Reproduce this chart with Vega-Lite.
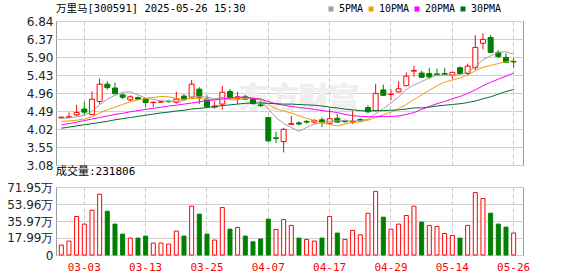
{
  "$schema": "https://vega.github.io/schema/vega-lite/v6.json",
  "background": "white",
  "padding": {"left": 0, "top": 3, "right": 0, "bottom": 0},
  "bounds": "flush",
  "spacing": 22,
  "config": {
    "view": {"stroke": "#999", "strokeWidth": 1},
    "font": "DejaVu Sans",
    "axis": {"labelFont": "DejaVu Sans", "labelFontSize": 12, "labelColor": "#222", "titleFontSize": 11, "labelOverlap": false}
  },
  "datasets": {
    "k": [
      {"d": "02-26", "o": 4.31, "h": 4.34, "l": 4.30, "c": 4.33, "v": 105000, "dir": "up", "vdir": "up", "5PMA": 4.30, "10PMA": 4.22, "20PMA": 4.13, "30PMA": 4.04},
      {"d": "02-27", "o": 4.32, "h": 4.45, "l": 4.30, "c": 4.34, "v": 147000, "dir": "up", "vdir": "up", "5PMA": 4.31, "10PMA": 4.23, "20PMA": 4.16, "30PMA": 4.07},
      {"d": "02-28", "o": 4.39, "h": 4.65, "l": 4.36, "c": 4.45, "v": 408000, "dir": "up", "vdir": "up", "5PMA": 4.34, "10PMA": 4.25, "20PMA": 4.20, "30PMA": 4.10},
      {"d": "03-03", "o": 4.54, "h": 4.73, "l": 4.37, "c": 4.46, "v": 327000, "dir": "down", "vdir": "up", "5PMA": 4.38, "10PMA": 4.28, "20PMA": 4.24, "30PMA": 4.13},
      {"d": "03-04", "o": 4.40, "h": 5.00, "l": 4.39, "c": 4.80, "v": 474000, "dir": "up", "vdir": "up", "5PMA": 4.48, "10PMA": 4.34, "20PMA": 4.28, "30PMA": 4.16},
      {"d": "03-05", "o": 4.74, "h": 5.34, "l": 4.67, "c": 5.19, "v": 643000, "dir": "up", "vdir": "up", "5PMA": 4.65, "10PMA": 4.44, "20PMA": 4.32, "30PMA": 4.19},
      {"d": "03-06", "o": 5.19, "h": 5.27, "l": 5.05, "c": 5.10, "v": 463000, "dir": "down", "vdir": "down", "5PMA": 4.80, "10PMA": 4.52, "20PMA": 4.36, "30PMA": 4.22},
      {"d": "03-07", "o": 5.09, "h": 5.23, "l": 4.93, "c": 4.94, "v": 327000, "dir": "down", "vdir": "down", "5PMA": 4.90, "10PMA": 4.59, "20PMA": 4.40, "30PMA": 4.26},
      {"d": "03-10", "o": 4.91, "h": 4.95, "l": 4.80, "c": 4.85, "v": 221000, "dir": "down", "vdir": "down", "5PMA": 4.98, "10PMA": 4.66, "20PMA": 4.43, "30PMA": 4.29},
      {"d": "03-11", "o": 4.78, "h": 4.90, "l": 4.75, "c": 4.86, "v": 179000, "dir": "up", "vdir": "up", "5PMA": 4.99, "10PMA": 4.73, "20PMA": 4.47, "30PMA": 4.32},
      {"d": "03-12", "o": 4.84, "h": 4.87, "l": 4.78, "c": 4.80, "v": 179000, "dir": "down", "vdir": "down", "5PMA": 4.91, "10PMA": 4.78, "20PMA": 4.50, "30PMA": 4.35},
      {"d": "03-13", "o": 4.80, "h": 4.83, "l": 4.60, "c": 4.71, "v": 200000, "dir": "down", "vdir": "down", "5PMA": 4.83, "10PMA": 4.82, "20PMA": 4.53, "30PMA": 4.38},
      {"d": "03-14", "o": 4.71, "h": 4.73, "l": 4.59, "c": 4.72, "v": 126000, "dir": "up", "vdir": "up", "5PMA": 4.79, "10PMA": 4.84, "20PMA": 4.56, "30PMA": 4.41},
      {"d": "03-17", "o": 4.72, "h": 4.75, "l": 4.70, "c": 4.73, "v": 126000, "dir": "up", "vdir": "up", "5PMA": 4.76, "10PMA": 4.87, "20PMA": 4.59, "30PMA": 4.44},
      {"d": "03-18", "o": 4.75, "h": 4.76, "l": 4.71, "c": 4.73, "v": 116000, "dir": "down", "vdir": "up", "5PMA": 4.74, "10PMA": 4.86, "20PMA": 4.62, "30PMA": 4.46},
      {"d": "03-19", "o": 4.72, "h": 4.99, "l": 4.68, "c": 4.80, "v": 253000, "dir": "up", "vdir": "up", "5PMA": 4.74, "10PMA": 4.82, "20PMA": 4.64, "30PMA": 4.49},
      {"d": "03-20", "o": 4.88, "h": 4.93, "l": 4.78, "c": 4.79, "v": 200000, "dir": "down", "vdir": "down", "5PMA": 4.76, "10PMA": 4.79, "20PMA": 4.67, "30PMA": 4.51},
      {"d": "03-21", "o": 4.85, "h": 5.30, "l": 4.82, "c": 5.19, "v": 516000, "dir": "up", "vdir": "up", "5PMA": 4.85, "10PMA": 4.82, "20PMA": 4.70, "30PMA": 4.54},
      {"d": "03-24", "o": 5.06, "h": 5.11, "l": 4.67, "c": 4.85, "v": 432000, "dir": "down", "vdir": "down", "5PMA": 4.87, "10PMA": 4.82, "20PMA": 4.73, "30PMA": 4.56},
      {"d": "03-25", "o": 4.80, "h": 4.90, "l": 4.59, "c": 4.60, "v": 221000, "dir": "down", "vdir": "down", "5PMA": 4.85, "10PMA": 4.79, "20PMA": 4.76, "30PMA": 4.58},
      {"d": "03-26", "o": 4.59, "h": 4.74, "l": 4.55, "c": 4.62, "v": 158000, "dir": "up", "vdir": "up", "5PMA": 4.81, "10PMA": 4.78, "20PMA": 4.78, "30PMA": 4.61},
      {"d": "03-27", "o": 4.67, "h": 5.14, "l": 4.53, "c": 4.98, "v": 502000, "dir": "up", "vdir": "up", "5PMA": 4.85, "10PMA": 4.80, "20PMA": 4.81, "30PMA": 4.63},
      {"d": "03-28", "o": 5.00, "h": 5.07, "l": 4.81, "c": 4.84, "v": 274000, "dir": "down", "vdir": "down", "5PMA": 4.78, "10PMA": 4.81, "20PMA": 4.83, "30PMA": 4.65},
      {"d": "03-31", "o": 4.82, "h": 4.99, "l": 4.67, "c": 4.86, "v": 292000, "dir": "up", "vdir": "up", "5PMA": 4.78, "10PMA": 4.83, "20PMA": 4.85, "30PMA": 4.67},
      {"d": "04-01", "o": 4.86, "h": 4.91, "l": 4.79, "c": 4.80, "v": 200000, "dir": "down", "vdir": "down", "5PMA": 4.82, "10PMA": 4.83, "20PMA": 4.85, "30PMA": 4.69},
      {"d": "04-02", "o": 4.80, "h": 4.83, "l": 4.67, "c": 4.68, "v": 140000, "dir": "down", "vdir": "down", "5PMA": 4.83, "10PMA": 4.82, "20PMA": 4.82, "30PMA": 4.70},
      {"d": "04-03", "o": 4.65, "h": 4.74, "l": 4.59, "c": 4.63, "v": 169000, "dir": "down", "vdir": "down", "5PMA": 4.76, "10PMA": 4.81, "20PMA": 4.80, "30PMA": 4.70},
      {"d": "04-07", "o": 4.32, "h": 4.33, "l": 3.68, "c": 3.71, "v": 379000, "dir": "down", "vdir": "down", "5PMA": 4.54, "10PMA": 4.66, "20PMA": 4.74, "30PMA": 4.69},
      {"d": "04-08", "o": 3.79, "h": 3.95, "l": 3.65, "c": 3.77, "v": 271000, "dir": "down", "vdir": "up", "5PMA": 4.32, "10PMA": 4.55, "20PMA": 4.68, "30PMA": 4.68},
      {"d": "04-09", "o": 3.69, "h": 4.05, "l": 3.41, "c": 4.01, "v": 376000, "dir": "up", "vdir": "up", "5PMA": 4.16, "10PMA": 4.49, "20PMA": 4.64, "30PMA": 4.67},
      {"d": "04-10", "o": 4.14, "h": 4.36, "l": 4.13, "c": 4.16, "v": 313000, "dir": "up", "vdir": "up", "5PMA": 4.06, "10PMA": 4.44, "20PMA": 4.61, "30PMA": 4.67},
      {"d": "04-11", "o": 4.18, "h": 4.22, "l": 4.12, "c": 4.15, "v": 179000, "dir": "down", "vdir": "down", "5PMA": 3.96, "10PMA": 4.36, "20PMA": 4.58, "30PMA": 4.66},
      {"d": "04-14", "o": 4.22, "h": 4.25, "l": 4.16, "c": 4.20, "v": 165000, "dir": "down", "vdir": "up", "5PMA": 4.06, "10PMA": 4.30, "20PMA": 4.56, "30PMA": 4.65},
      {"d": "04-15", "o": 4.20, "h": 4.28, "l": 4.16, "c": 4.24, "v": 147000, "dir": "up", "vdir": "up", "5PMA": 4.15, "10PMA": 4.24, "20PMA": 4.53, "30PMA": 4.64},
      {"d": "04-16", "o": 4.26, "h": 4.32, "l": 4.07, "c": 4.19, "v": 179000, "dir": "down", "vdir": "down", "5PMA": 4.19, "10PMA": 4.18, "20PMA": 4.50, "30PMA": 4.62},
      {"d": "04-17", "o": 4.17, "h": 4.56, "l": 4.12, "c": 4.29, "v": 408000, "dir": "up", "vdir": "up", "5PMA": 4.22, "10PMA": 4.14, "20PMA": 4.48, "30PMA": 4.59},
      {"d": "04-18", "o": 4.30, "h": 4.41, "l": 4.19, "c": 4.20, "v": 232000, "dir": "down", "vdir": "down", "5PMA": 4.23, "10PMA": 4.10, "20PMA": 4.45, "30PMA": 4.57},
      {"d": "04-21", "o": 4.23, "h": 4.27, "l": 4.19, "c": 4.21, "v": 165000, "dir": "down", "vdir": "up", "5PMA": 4.24, "10PMA": 4.15, "20PMA": 4.40, "30PMA": 4.54},
      {"d": "04-22", "o": 4.20, "h": 4.50, "l": 4.15, "c": 4.22, "v": 260000, "dir": "up", "vdir": "up", "5PMA": 4.23, "10PMA": 4.19, "20PMA": 4.37, "30PMA": 4.52},
      {"d": "04-23", "o": 4.27, "h": 4.30, "l": 4.20, "c": 4.23, "v": 214000, "dir": "down", "vdir": "up", "5PMA": 4.24, "10PMA": 4.21, "20PMA": 4.35, "30PMA": 4.50},
      {"d": "04-24", "o": 4.58, "h": 4.64, "l": 4.43, "c": 4.47, "v": 442000, "dir": "down", "vdir": "up", "5PMA": 4.27, "10PMA": 4.25, "20PMA": 4.34, "30PMA": 4.49},
      {"d": "04-25", "o": 4.50, "h": 5.20, "l": 4.48, "c": 4.95, "v": 674000, "dir": "up", "vdir": "up", "5PMA": 4.42, "10PMA": 4.32, "20PMA": 4.34, "30PMA": 4.50},
      {"d": "04-28", "o": 5.04, "h": 5.18, "l": 4.88, "c": 4.90, "v": 400000, "dir": "down", "vdir": "down", "5PMA": 4.55, "10PMA": 4.39, "20PMA": 4.35, "30PMA": 4.50},
      {"d": "04-29", "o": 4.92, "h": 5.06, "l": 4.78, "c": 4.93, "v": 274000, "dir": "up", "vdir": "up", "5PMA": 4.70, "10PMA": 4.46, "20PMA": 4.35, "30PMA": 4.51},
      {"d": "04-30", "o": 4.99, "h": 5.27, "l": 4.97, "c": 5.07, "v": 327000, "dir": "up", "vdir": "up", "5PMA": 4.86, "10PMA": 4.55, "20PMA": 4.36, "30PMA": 4.52},
      {"d": "05-06", "o": 5.15, "h": 5.50, "l": 5.14, "c": 5.40, "v": 418000, "dir": "up", "vdir": "up", "5PMA": 5.05, "10PMA": 4.66, "20PMA": 4.40, "30PMA": 4.54},
      {"d": "05-07", "o": 5.53, "h": 5.67, "l": 5.39, "c": 5.55, "v": 516000, "dir": "up", "vdir": "up", "5PMA": 5.17, "10PMA": 4.79, "20PMA": 4.45, "30PMA": 4.57},
      {"d": "05-08", "o": 5.48, "h": 5.54, "l": 5.36, "c": 5.37, "v": 348000, "dir": "down", "vdir": "down", "5PMA": 5.26, "10PMA": 4.91, "20PMA": 4.53, "30PMA": 4.57},
      {"d": "05-09", "o": 5.47, "h": 5.62, "l": 5.33, "c": 5.38, "v": 313000, "dir": "down", "vdir": "up", "5PMA": 5.35, "10PMA": 5.03, "20PMA": 4.61, "30PMA": 4.59},
      {"d": "05-12", "o": 5.46, "h": 5.60, "l": 5.42, "c": 5.43, "v": 302000, "dir": "down", "vdir": "up", "5PMA": 5.43, "10PMA": 5.15, "20PMA": 4.68, "30PMA": 4.62},
      {"d": "05-13", "o": 5.47, "h": 5.62, "l": 5.43, "c": 5.44, "v": 228000, "dir": "down", "vdir": "up", "5PMA": 5.43, "10PMA": 5.24, "20PMA": 4.74, "30PMA": 4.64},
      {"d": "05-14", "o": 5.43, "h": 5.51, "l": 5.33, "c": 5.50, "v": 207000, "dir": "up", "vdir": "up", "5PMA": 5.42, "10PMA": 5.30, "20PMA": 4.81, "30PMA": 4.66},
      {"d": "05-15", "o": 5.62, "h": 5.65, "l": 5.44, "c": 5.47, "v": 179000, "dir": "down", "vdir": "down", "5PMA": 5.44, "10PMA": 5.35, "20PMA": 4.87, "30PMA": 4.68},
      {"d": "05-16", "o": 5.47, "h": 5.73, "l": 5.43, "c": 5.66, "v": 313000, "dir": "up", "vdir": "up", "5PMA": 5.50, "10PMA": 5.43, "20PMA": 4.95, "30PMA": 4.71},
      {"d": "05-19", "o": 5.62, "h": 6.47, "l": 5.56, "c": 6.15, "v": 660000, "dir": "up", "vdir": "up", "5PMA": 5.64, "10PMA": 5.54, "20PMA": 5.04, "30PMA": 4.75},
      {"d": "05-20", "o": 6.26, "h": 6.52, "l": 6.10, "c": 6.36, "v": 597000, "dir": "up", "vdir": "up", "5PMA": 5.83, "10PMA": 5.63, "20PMA": 5.15, "30PMA": 4.81},
      {"d": "05-21", "o": 6.41, "h": 6.47, "l": 6.00, "c": 6.02, "v": 442000, "dir": "down", "vdir": "down", "5PMA": 5.93, "10PMA": 5.68, "20PMA": 5.24, "30PMA": 4.86},
      {"d": "05-22", "o": 6.02, "h": 6.08, "l": 5.87, "c": 5.91, "v": 327000, "dir": "down", "vdir": "down", "5PMA": 6.02, "10PMA": 5.73, "20PMA": 5.32, "30PMA": 4.93},
      {"d": "05-23", "o": 5.89, "h": 6.00, "l": 5.75, "c": 5.76, "v": 295000, "dir": "down", "vdir": "down", "5PMA": 6.04, "10PMA": 5.77, "20PMA": 5.40, "30PMA": 5.00},
      {"d": "05-26", "o": 5.78, "h": 5.87, "l": 5.62, "c": 5.77, "v": 231806, "dir": "down", "vdir": "up", "5PMA": 5.97, "10PMA": 5.81, "20PMA": 5.48, "30PMA": 5.05}
    ]
  },
  "vconcat": [
    {
      "width": 467,
      "height": 144,
      "title": {"text": "万里马[300591] 2025-05-26 15:30", "anchor": "start", "frame": "group", "font": "DejaVu Sans Mono, Noto Sans CJK SC", "fontSize": 10.5, "fontWeight": "normal", "color": "#000", "offset": -10},
      "data": {"name": "k"},
      "encoding": {
        "x": {
          "field": "d", "type": "ordinal",
          "scale": {"type": "band", "paddingInner": 0, "paddingOuter": 0.456, "align": 0.21, "round": false},
          "axis": {"title": null, "labels": false, "ticks": false, "domain": false, "grid": true, "gridColor": "#c8c8c8", "gridDash": [4, 3],
                   "values": ["03-03", "03-13", "03-25", "04-07", "04-17", "04-29", "05-14", "05-26"]}
        }
      },
      "layer": [
        {
          "mark": {"type": "text", "font": "Noto Sans CJK SC", "fontSize": 30, "fontWeight": "bold", "color": "#efefef"},
          "encoding": {
            "x": {"datum": "04-11"},
            "y": {"datum": 4.80, "type": "quantitative"},
            "text": {"value": "东方财富"}
          }
        },
        {
          "mark": {"type": "rule", "strokeWidth": 1},
          "encoding": {
            "y": {"field": "l", "type": "quantitative", "scale": {"domain": [3.08, 6.84], "nice": false, "zero": false},
                  "axis": {"title": null, "values": [3.08, 3.55, 4.02, 4.49, 4.96, 5.43, 5.90, 6.37, 6.84], "tickCount": 20, "format": ".2f", "labelOverlap": false, "grid": true, "gridColor": "#d0d0d0", "ticks": false, "domain": false, "labelPadding": 3, "minExtent": 55, "maxExtent": 55}},
            "y2": {"field": "h"},
            "color": {"field": "dir", "type": "nominal", "scale": {"domain": ["up", "down"], "range": ["#ff0000", "#008000"]}, "legend": null}
          }
        },
        {
          "mark": {"type": "bar", "width": 5, "strokeWidth": 1},
          "encoding": {
            "y": {"field": "o", "type": "quantitative"},
            "y2": {"field": "c"},
            "fill": {"field": "dir", "type": "nominal", "scale": {"domain": ["up", "down"], "range": ["#ffffff", "#008000"]}, "legend": null},
            "stroke": {"field": "dir", "type": "nominal", "scale": {"domain": ["up", "down"], "range": ["#ff0000", "#008000"]}, "legend": null}
          }
        },
        {
          "transform": [{"fold": ["5PMA", "10PMA", "20PMA", "30PMA"], "as": ["ma", "mv"]}],
          "mark": {"type": "line", "strokeWidth": 1},
          "encoding": {
            "y": {"field": "mv", "type": "quantitative"},
            "color": {
              "field": "ma", "type": "nominal",
              "scale": {"domain": ["5PMA", "10PMA", "20PMA", "30PMA"], "range": ["#a0a0a0", "#f0a000", "#ff00ff", "#006e2e"]},
              "legend": {"title": null, "orient": "none", "legendX": 270, "legendY": -17, "direction": "horizontal",
                         "symbolType": "stroke", "symbolSize": 25, "symbolStrokeWidth": 5, "labelFont": "DejaVu Sans Mono", "labelFontSize": 10,
                         "labelColor": "#000", "labelOffset": 3, "columnPadding": -6, "padding": 0, "gridAlign": "none"}
            }
          }
        }
      ],
      "resolve": {"scale": {"color": "independent"}}
    },
    {
      "width": 467,
      "height": 68,
      "title": {"text": "成交量:231806", "anchor": "start", "frame": "group", "font": "DejaVu Sans Mono, Noto Sans CJK SC", "fontSize": 11, "fontWeight": "normal", "color": "#000", "offset": 4},
      "data": {"name": "k"},
      "mark": {"type": "bar", "width": 4, "strokeWidth": 1},
      "encoding": {
        "x": {
          "field": "d", "type": "ordinal",
          "scale": {"type": "band", "paddingInner": 0, "paddingOuter": 0.456, "align": 0.21, "round": false},
          "axis": {"title": null, "labelAngle": 0, "ticks": false, "domain": false, "grid": true, "gridColor": "#c8c8c8", "gridDash": [4, 3],
                   "labelColor": "#ff0000", "labelFont": "DejaVu Sans Mono", "labelFontSize": 11, "labelPadding": 6,
                   "values": ["03-03", "03-13", "03-25", "04-07", "04-17", "04-29", "05-14", "05-26"]}
        },
        "y": {
          "field": "v", "type": "quantitative",
          "scale": {"domain": [0, 719500], "nice": false},
          "axis": {"title": null, "values": [0, 179900, 359700, 539600, 719500], "tickCount": 20,
                   "labelExpr": "datum.value == 0 ? '0' : format(datum.value / 10000, '.2f') + '万'",
                   "grid": true, "gridColor": "#d0d0d0", "ticks": false, "domain": false, "labelPadding": 3, "minExtent": 55, "maxExtent": 55}
        },
        "fill": {"field": "vdir", "type": "nominal", "scale": {"domain": ["up", "down"], "range": ["#ffffff", "#008000"]}, "legend": null},
        "stroke": {"field": "vdir", "type": "nominal", "scale": {"domain": ["up", "down"], "range": ["#ff0000", "#008000"]}, "legend": null}
      }
    }
  ],
  "resolve": {"scale": {"x": "independent", "y": "independent", "fill": "independent", "stroke": "independent", "color": "independent"}}
}
